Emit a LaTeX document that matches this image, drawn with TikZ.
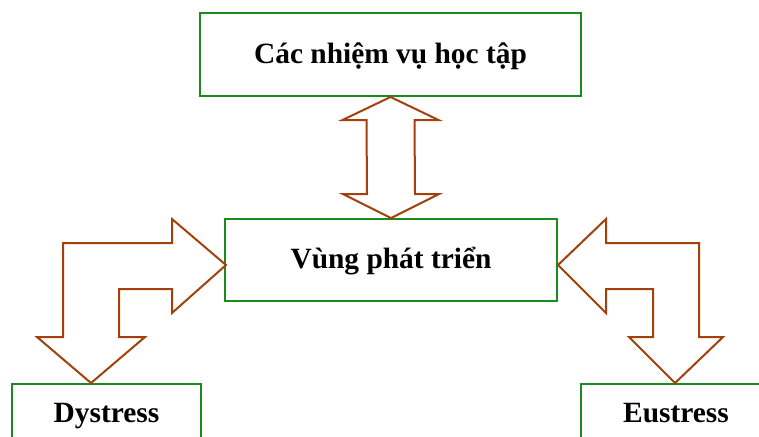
\documentclass[tikz,border=0pt]{standalone}
\usepackage{fontspec}
\setmainfont{Liberation Serif}
\usepackage{xcolor}
\usetikzlibrary{calc}
\definecolor{boxgreen}{HTML}{1C8A1C}
\definecolor{rust}{HTML}{A3400C}

\begin{document}
\begin{tikzpicture}[x=0.5pt,y=-0.5pt]
    \tikzset{
      box/.style={draw=boxgreen,line width=1pt,inner sep=0pt,align=center,
        text height=1.05em,text depth=0.2em,font=\fontsize{14.7}{17}\selectfont\bfseries},
      fat/.style={draw=rust,line width=1pt,line join=miter,fill=white}
    }
    \path[use as bounding box,clip] (0,0) rectangle (759,436);
    \node[box,minimum width=190.5pt,minimum height=41.5pt] (tasks) at (390.5,54.5) {Các nhiệm vụ học tập};
    \node[box,minimum width=166pt,minimum height=41pt] (zone) at (391,260) {Vùng phát triển};
    \node[box,anchor=north,minimum width=94.5pt,minimum height=29.5pt] (dys) at (106.5,383) {Dystress};
    \node[box,anchor=north,minimum width=95pt,minimum height=29.5pt] (eus) at (676,383) {Eustress};
    % tips of the fat arrows
    \coordinate (up) at (tasks.south);
    \coordinate (dn) at (zone.north);
    \coordinate (lt) at ($(zone.west)+(2,5)$);
    \coordinate (rt) at ($(zone.east)+(0,5)$);
    \coordinate (dt) at ($(dys.north)+(-15.5,0)$);
    \coordinate (et) at ($(eus.north)+(-1,0)$);
    % tasks <-> zone
    \draw[fat] (up) -- ($(up)+(48,23)$) -- ($(up)+(24,23)$) -- ($(dn)+(24,-24)$) -- ($(dn)+(48,-24)$)
      -- (dn) -- ($(dn)+(-48,-24)$) -- ($(dn)+(-24,-24)$) -- ($(up)+(-24,23)$) -- ($(up)+(-48,23)$) -- cycle;
    % zone -> dystress
    \draw[fat] (lt) -- ($(lt)+(-54,-46)$) -- ($(lt)+(-54,-22)$) -- ($(dt)+(-28,-140)$) -- ($(dt)+(-28,-46)$)
      -- ($(dt)+(-54,-46)$) -- (dt) -- ($(dt)+(54,-46)$) -- ($(dt)+(28,-46)$) -- ($(dt)+(28,-94)$)
      -- ($(lt)+(-54,24)$) -- ($(lt)+(-54,48)$) -- cycle;
    % zone -> eustress
    \draw[fat] (rt) -- ($(rt)+(48,-46)$) -- ($(rt)+(48,-22)$) -- ($(et)+(24,-140)$) -- ($(et)+(24,-46)$)
      -- ($(et)+(48,-46)$) -- (et) -- ($(et)+(-46,-46)$) -- ($(et)+(-22,-46)$) -- ($(et)+(-22,-94)$)
      -- ($(rt)+(48,24)$) -- ($(rt)+(48,48)$) -- cycle;
  \end{tikzpicture}
\end{document}
